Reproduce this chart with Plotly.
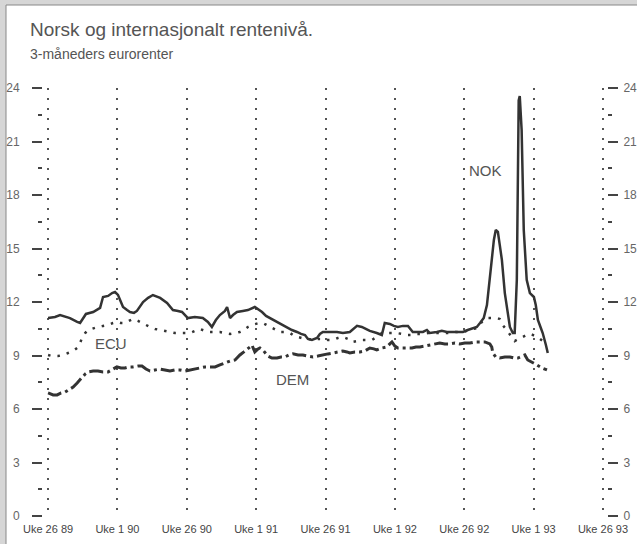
import plotly.graph_objects as go

# ---- data (x = weeks after "Uke 26 89") ----
tick_weeks = [0, 26, 52, 78, 104, 130, 156, 182, 208]
tick_labels = ["Uke 26 89", "Uke 1 90", "Uke 26 90", "Uke 1 91", "Uke 26 91",
               "Uke 1 92", "Uke 26 92", "Uke 1 93", "Uke 26 93"]

nok_weeks = [0, 2.6, 4.5, 6.4, 8.2, 10.9, 12, 14.2, 16.9, 19.5, 20.6, 22.5, 24, 25.1, 26.2,
             27, 28.1, 29.6, 30.7, 32.2, 33.3, 35.6, 37.5, 39.3, 40.8, 42, 44.6, 46.8, 48.7,
             50.2, 52.4, 55, 58, 59.9, 61.4, 62.9, 64.4, 66.3, 67.1, 68.2, 69.3, 70.8, 73,
             74.9, 77.5, 80.2, 81.7, 83.2, 85.8, 87.6, 89.5, 91.4, 93.3, 94.8, 96.3, 97.4,
             98.9, 100.8, 101.9, 103, 105.6, 108.3, 110.5, 113.1, 115.8, 117.6, 119.1, 120.6,
             123.2, 125.1, 126.2, 128.1, 129.6, 131.1, 133, 134.9, 136.7, 138.6, 140.5, 142,
             143.1, 145.7, 147.6, 149.5, 152.5, 155.5, 157.3, 159.2, 160.7, 161.9, 163.3,
             164.5, 166.3, 167.1, 167.8, 168.6, 169.3, 170.1, 171.2, 172.3, 173.1, 174.2,
             174.9, 175.7, 176.1, 176.4, 176.8, 177.2, 177.5, 178.3, 179.1, 179.4, 180.6,
             182.1, 182.8, 183.6, 184.7, 185.4, 186.6, 187.3]
nok_values = [11.1, 11.16, 11.27, 11.2, 11.1, 10.88, 10.82, 11.33, 11.44, 11.67, 12.28, 12.34,
              12.5, 12.56, 12.4, 12.11, 11.72, 11.55, 11.44, 11.39, 11.5, 12.0, 12.23, 12.39,
              12.28, 12.23, 11.95, 11.55, 11.5, 11.44, 11.1, 11.16, 11.1, 10.88, 10.6, 10.99,
              11.27, 11.5, 11.72, 11.1, 11.27, 11.44, 11.5, 11.55, 11.72, 11.44, 11.22, 11.1,
              10.88, 10.71, 10.6, 10.43, 10.32, 10.21, 10.15, 9.93, 9.87, 9.98, 10.21, 10.32,
              10.32, 10.32, 10.26, 10.32, 10.66, 10.6, 10.49, 10.38, 10.26, 10.15, 10.82,
              10.77, 10.66, 10.6, 10.66, 10.66, 10.32, 10.32, 10.32, 10.43, 10.26, 10.32,
              10.38, 10.32, 10.32, 10.32, 10.43, 10.54, 10.6, 10.82, 11.1, 11.83, 14.36,
              15.48, 16.04, 15.93, 15.2, 14.36, 12.5, 11.39, 10.6, 10.26, 10.26, 13.24, 18.84,
              23.3, 23.55, 22.77, 21.65, 16.04, 13.5, 13.24, 12.5, 12.28, 11.83, 10.99, 10.54,
              10.26, 9.59, 9.14]

ecu_weeks = [0, 1.5, 3.7, 5.6, 7.5, 9.4, 10.9, 12, 12.7, 13.9, 15, 16.9, 18.7, 20.6, 22.5,
             24.3, 25.8, 27.3, 28.8, 30.3, 31.8, 33.7, 35.2, 36.7, 38.2, 40.1, 42, 43.8, 45.7,
             47.6, 49.4, 51.3, 53.2, 55.1, 56.9, 58.8, 60.7, 62.6, 64.4, 66.3, 68.2, 70.1,
             71.9, 73.4, 74.9, 76.4, 77.5, 79, 80.5, 82.4, 83.9, 85.4, 86.9, 88.8, 90.7, 92.2,
             93.7, 95.1, 96.3, 97.8, 99.3, 101.1, 103, 104.9, 106.8, 108.6, 110.5, 112.4,
             113.9, 115.8, 117.6, 119.5, 121.4, 123.2, 125.1, 127, 128.9, 130.7, 132.6, 134.5,
             136.4, 138.2, 140.1, 142.3, 144.2, 146.1, 148.3, 150.6, 152.8, 155.5, 158.1,
             160.7, 162.6, 164.5, 166.3, 168.2, 169.3, 170.4, 171.9, 173.4, 174.9, 176.4,
             177.9, 179.4, 180.9, 182.4, 183.9, 185.4]
ecu_values = [9.03, 8.97, 8.97, 9.03, 9.14, 9.25, 9.42, 9.7, 9.98, 10.26, 10.43, 10.54, 10.6,
              10.66, 10.71, 10.82, 10.88, 10.82, 10.82, 10.94, 11.05, 10.94, 10.82, 10.71,
              10.6, 10.49, 10.43, 10.38, 10.32, 10.26, 10.26, 10.26, 10.26, 10.38, 10.49,
              10.38, 10.32, 10.32, 10.32, 10.26, 10.21, 10.26, 10.32, 10.43, 10.6, 10.71,
              10.77, 10.82, 10.82, 10.66, 10.54, 10.43, 10.32, 10.32, 10.26, 10.1, 10.04,
              9.98, 9.98, 9.93, 9.87, 9.93, 9.93, 9.87, 9.87, 9.98, 10.04, 9.93, 9.76, 9.81,
              9.87, 9.87, 9.87, 10.04, 10.26, 10.26, 10.26, 10.26, 10.21, 10.15, 10.15, 10.21,
              10.21, 10.26, 10.26, 10.26, 10.26, 10.26, 10.32, 10.32, 10.43, 10.54, 10.88,
              11.1, 11.1, 11.1, 11.05, 10.71, 10.43, 10.1, 9.81, 9.93, 10.04, 10.15, 10.21,
              10.1, 9.98, 9.81]

dem_weeks = [0, 1.9, 3.4, 4.9, 6.4, 7.9, 9.4, 10.9, 12.7, 13.9, 15, 16.9, 18.7, 20.6, 22.5,
             24.3, 25.8, 27.3, 28.8, 30.3, 31.8, 33.7, 35.2, 36.7, 38.2, 40.1, 42, 43.8, 45.7,
             47.6, 49.4, 51.3, 53.2, 55.1, 56.9, 58.8, 60.7, 62.6, 64.4, 66.3, 68.2, 70.1,
             71.9, 73.4, 74.5, 75.7, 76.4, 77.5, 78.7, 79.4, 80.5, 81.3, 82.4, 83.9, 85.8,
             87.3, 88.8, 90.3, 91.8, 93.7, 95.5, 97.4, 99.3, 101.1, 102.6, 104.9, 106.8,
             108.6, 110.5, 112, 113.1, 115, 116.9, 118.7, 120.6, 122.1, 123.2, 125.1, 127,
             128.1, 128.9, 130, 131.1, 133, 134.5, 136.4, 137.9, 139.4, 141.2, 143.1, 145,
             146.8, 148.7, 150.6, 152.5, 154.3, 156.2, 158.1, 160, 161.8, 163.7, 165.6, 166.3,
             166.7, 167.8, 169.3, 171.2, 173.1, 174.6, 176.1, 177.5, 178.7, 179.8, 181.3,
             183.2, 185.1, 187]
dem_values = [6.9, 6.79, 6.79, 6.9, 6.95, 7.07, 7.23, 7.46, 7.8, 7.96, 8.08, 8.13, 8.13, 8.08,
              8.08, 8.24, 8.36, 8.3, 8.3, 8.36, 8.36, 8.41, 8.41, 8.24, 8.13, 8.19, 8.24, 8.19,
              8.13, 8.19, 8.19, 8.13, 8.19, 8.24, 8.3, 8.36, 8.36, 8.36, 8.47, 8.58, 8.69,
              8.75, 9.03, 9.2, 9.31, 9.48, 9.59, 9.2, 9.37, 9.42, 9.31, 9.14, 8.97, 8.86, 8.86,
              8.92, 8.92, 9.03, 9.09, 9.03, 9.03, 8.97, 8.92, 8.97, 9.03, 9.09, 9.14, 9.2,
              9.25, 9.2, 9.14, 9.2, 9.2, 9.25, 9.42, 9.37, 9.31, 9.42, 9.48, 9.65, 9.76, 9.53,
              9.42, 9.42, 9.42, 9.42, 9.48, 9.48, 9.53, 9.59, 9.65, 9.7, 9.65, 9.65, 9.7, 9.65,
              9.7, 9.7, 9.76, 9.76, 9.76, 9.65, 9.48, 9.14, 8.92, 8.86, 8.92, 8.92, 8.86, 8.86,
              8.97, 9.03, 8.75, 8.64, 8.47, 8.3, 8.19]

y_major = [0, 3, 6, 9, 12, 15, 18, 21, 24]
y_minor = [1.5, 4.5, 7.5, 10.5, 13.5, 16.5, 19.5, 22.5]

title_text = "Norsk og internasjonalt rentenivå."
subtitle_text = "3-måneders eurorenter"

# ---- figure ----
W, H = 637, 544
ML, MR, MT, MB = 43, 30, 88, 28
PW, PH = W - ML - MR, H - MT - MB


def px_x(p):
    return (p - ML) / PW


def px_y(p):
    return (H - MB - p) / PH


line_col = "#333333"
font_name = "Liberation Sans, Arial, sans-serif"

fig = go.Figure()
fig.add_trace(go.Scatter(x=ecu_weeks, y=ecu_values, mode="lines", hoverinfo="skip",
                         line=dict(color=line_col, width=2.5, dash="2.5px,7px")))
fig.add_trace(go.Scatter(x=dem_weeks, y=dem_values, mode="lines", hoverinfo="skip",
                         line=dict(color=line_col, width=3, dash="14px,4px,3px,4px")))
fig.add_trace(go.Scatter(x=nok_weeks, y=nok_values, mode="lines", hoverinfo="skip",
                         line=dict(color=line_col, width=2.5)))
fig.add_trace(go.Scatter(x=[], y=[], yaxis="y2", hoverinfo="skip", showlegend=False))

yax_common = dict(range=[0, 24], tickvals=y_major, ticktext=[str(v) for v in y_major],
                  ticks="outside", ticklen=10, tickwidth=1.5, tickcolor="#444",
                  showgrid=False, zeroline=False, showline=False, automargin=False,
                  tickfont=dict(family=font_name, size=12, color="#666"),
                  minor=dict(tickvals=y_minor, ticks="outside", ticklen=4, tickwidth=1.5,
                             tickcolor="#444", showgrid=False))

fig.update_layout(
    width=W, height=H,
    margin=dict(l=ML, r=MR, t=MT, b=MB, autoexpand=False),
    paper_bgcolor="#d6d6d6",
    plot_bgcolor="white",
    showlegend=False,
    font=dict(family=font_name, color="#444"),
    xaxis=dict(range=[-1.9, 209.5], tickvals=tick_weeks, ticktext=tick_labels,
               showgrid=True, gridcolor="#555", gridwidth=1.6, griddash="2px,8px",
               zeroline=False, showline=False, ticks="", automargin=False,
               ticklabelstandoff=5,
               tickfont=dict(family=font_name, size=11, color="#444")),
    yaxis=dict(**yax_common, side="left", ticklabelstandoff=10),
    yaxis2=dict(**yax_common, side="right", overlaying="y", anchor="x", ticklabelstandoff=3),
    shapes=[dict(type="rect", xref="paper", yref="paper", layer="below",
                 x0=px_x(6), x1=px_x(645), y0=px_y(552), y1=px_y(5),
                 fillcolor="white", line=dict(color="#888", width=1))],
    annotations=[
        dict(text=title_text, xref="paper", yref="paper", x=px_x(28), y=px_y(30),
             xanchor="left", yanchor="middle", showarrow=False,
             font=dict(family=font_name, size=19, color="#555")),
        dict(text=subtitle_text, xref="paper", yref="paper", x=px_x(28), y=px_y(54),
             xanchor="left", yanchor="middle", showarrow=False,
             font=dict(family=font_name, size=14, color="#555")),
        dict(text="NOK", x=164, y=19.4, xref="x", yref="y", showarrow=False,
             font=dict(family=font_name, size=15, color="#555")),
        dict(text="ECU", x=23.6, y=9.65, xref="x", yref="y", showarrow=False,
             font=dict(family=font_name, size=15, color="#555")),
        dict(text="DEM", x=91.8, y=7.63, xref="x", yref="y", showarrow=False,
             font=dict(family=font_name, size=15, color="#555")),
    ],
)

fig.write_html("out.html", config={"displayModeBar": False},
               post_script="document.body.style.margin='0';")
